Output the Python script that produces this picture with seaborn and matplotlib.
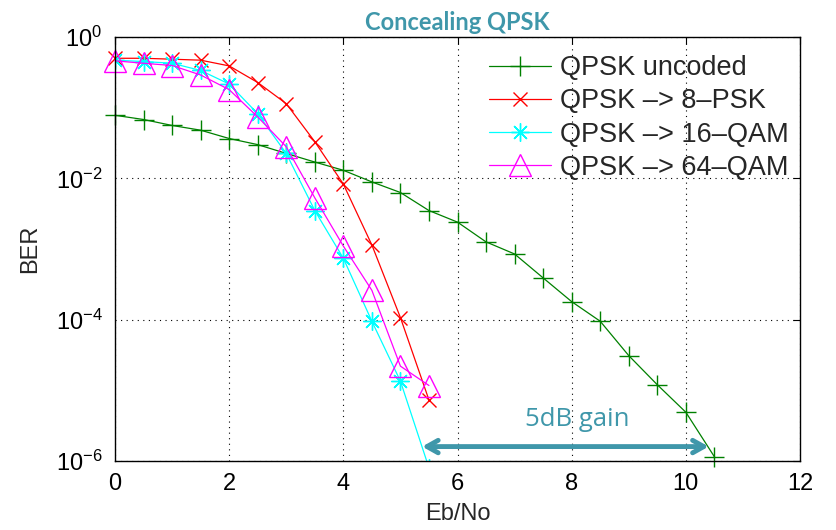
import matplotlib
matplotlib.use("Agg")
import matplotlib.pyplot as plt
import seaborn as sns
import numpy as np
import pandas as pd

# ---- data ----
ebno_uncoded = [0, 0.5, 1, 1.5, 2, 2.5, 3, 3.5, 4, 4.5, 5, 5.5, 6, 6.5, 7, 7.5,
                8, 8.5, 9, 9.5, 10, 10.5]
ber_uncoded = [0.078, 0.068, 0.056, 0.048, 0.0366, 0.030, 0.0225, 0.017, 0.013,
               0.0089, 0.0063, 0.0035, 0.0024, 0.00126, 0.00085, 0.00039,
               0.00018, 9.5e-5, 3.1e-5, 1.2e-5, 4.9e-6, 1.15e-6]

ebno_coded = [0, 0.5, 1, 1.5, 2, 2.5, 3, 3.5, 4, 4.5, 5, 5.5]
ber_8psk = [0.50, 0.50, 0.485, 0.47, 0.39, 0.227, 0.114, 0.033, 0.0083,
            0.00114, 1.07e-4, 7.3e-6]
ber_16qam = [0.47, 0.45, 0.425, 0.336, 0.216, 0.082, 0.0225, 0.0035, 0.00074,
             9.5e-5, 1.35e-5, 8e-7]
ber_64qam = [0.46, 0.425, 0.395, 0.29, 0.18, 0.074, 0.028, 0.0053, 0.0011,
             0.00026, 2.2e-5, 1.17e-5]

series_names = ["QPSK uncoded", "QPSK \u2013> 8\u2013PSK",
                "QPSK \u2013> 16\u2013QAM", "QPSK \u2013> 64\u2013QAM"]
x_ticks = [0, 2, 4, 6, 8, 10, 12]
y_ticks = [1e-6, 1e-4, 1e-2, 1e0]
title_text = "Concealing QPSK"
gain_text = "5dB gain"
gain_arrow_x = (5.38, 10.4)
gain_arrow_y = 1.6e-6
gain_text_pos = (8.1, 3.9e-6)

# ---- style ----
sns.set_style("white")
plt.rcParams["font.family"] = ["Liberation Sans", "DejaVu Sans"]
plt.rcParams["mathtext.fontset"] = "custom"
plt.rcParams["mathtext.rm"] = "Liberation Sans"
plt.rcParams["mathtext.it"] = "Liberation Sans"
plt.rcParams["mathtext.default"] = "regular"

fig = plt.figure(figsize=(8.36, 5.30), dpi=100)
ax = fig.add_axes([115 / 836, 1 - 461 / 530, 685 / 836, 424 / 530])

df_unc = pd.DataFrame({"x": ebno_uncoded, "y": ber_uncoded})
df_8 = pd.DataFrame({"x": ebno_coded, "y": ber_8psk})
df_16 = pd.DataFrame({"x": ebno_coded, "y": ber_16qam})
df_64 = pd.DataFrame({"x": ebno_coded, "y": ber_64qam})

teal = "#3f97aa"
lw = 0.9
c_unc, c_8, c_16, c_64 = "#008000", "#ff0000", "#00ffff", "#ff00ff"

sns.lineplot(data=df_unc, x="x", y="y", ax=ax, color=c_unc, lw=lw,
             marker="+", markersize=14, markeredgewidth=1.0,
             markeredgecolor=c_unc, label=series_names[0], clip_on=False)
sns.lineplot(data=df_8, x="x", y="y", ax=ax, color=c_8, lw=lw,
             marker="x", markersize=10, markeredgewidth=1.0,
             markeredgecolor=c_8, label=series_names[1], clip_on=False)
sns.lineplot(data=df_16, x="x", y="y", ax=ax, color=c_16, lw=lw,
             marker=(8, 2, 0), markersize=13, markeredgewidth=1.0,
             markeredgecolor=c_16, label=series_names[2])
sns.lineplot(data=df_64, x="x", y="y", ax=ax, color=c_64, lw=lw,
             marker="^", markersize=15.5, markeredgewidth=1.0,
             markerfacecolor="none", markeredgecolor=c_64,
             label=series_names[3], clip_on=False)

ax.set_yscale("log")
ax.set_xlim(0, 12)
ax.set_ylim(1e-6, 1)
ax.set_xticks(x_ticks)
ax.set_yticks(y_ticks)
ax.minorticks_off()
ax.grid(True, linestyle=(0, (1, 4)), color="black", lw=0.8)
for s in ax.spines.values():
    s.set_color("black")
    s.set_linewidth(1.0)
ax.tick_params(direction="in", top=True, right=True, length=5, width=0.8,
               labelsize=17, colors="black", pad=9)

ax.set_xlabel("Eb/No", fontsize=17)
ax.set_ylabel("BER", fontsize=17)
ax.xaxis.set_label_coords(0.5, -0.1)
ax.yaxis.set_label_coords(-0.108, 0.5)

ax.set_title(title_text, color=teal, fontsize=17, fontweight="bold",
             family=["Lato", "DejaVu Sans"], pad=5)

# gain arrow and text
ax.annotate("", xy=(gain_arrow_x[0], gain_arrow_y),
            xytext=(gain_arrow_x[1], gain_arrow_y),
            arrowprops=dict(arrowstyle="<->,head_length=0.8,head_width=0.45",
                            color=teal, lw=3.5, shrinkA=0, shrinkB=0))
ax.text(gain_text_pos[0], gain_text_pos[1], gain_text, color=teal,
        fontsize=18.5, ha="center", va="center",
        family=["Open Sans", "DejaVu Sans"])

leg = ax.legend(loc="upper right", frameon=False, fontsize=19.5,
                handlelength=2.3, handletextpad=0.33, labelspacing=0.27,
                borderaxespad=0.0, borderpad=0.4,
                bbox_to_anchor=(1.0, 0.983))

fig.savefig("out.png", dpi=100)
